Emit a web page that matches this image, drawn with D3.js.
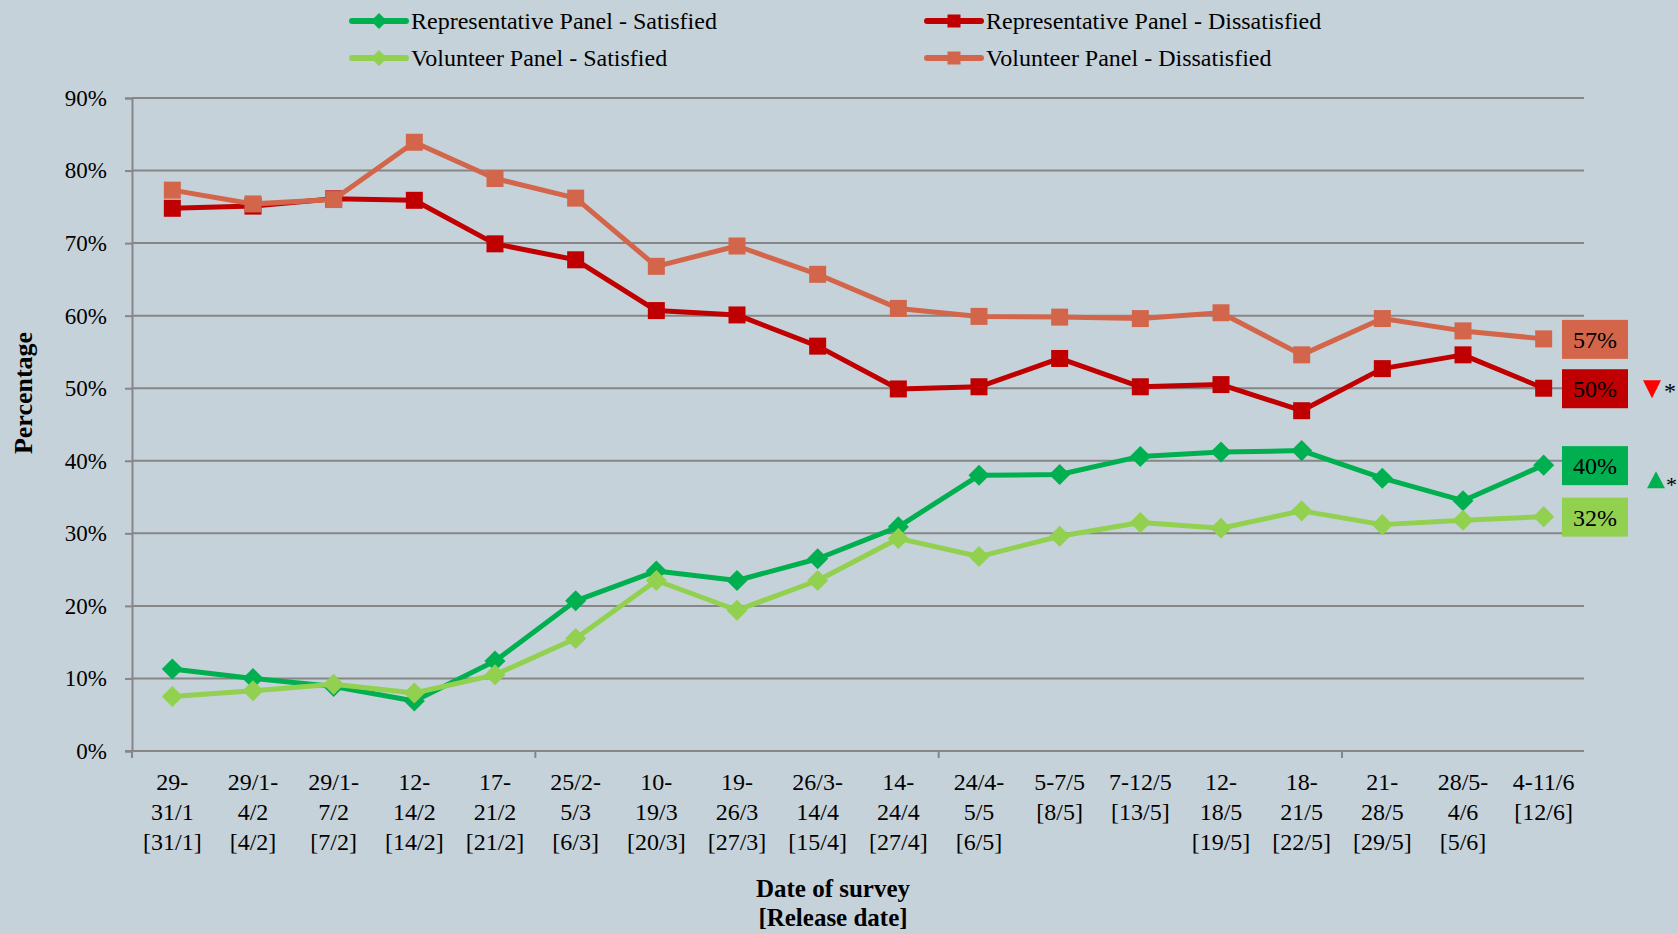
<!DOCTYPE html>
<html>
<head>
<meta charset="utf-8">
<script src="https://cdn.jsdelivr.net/npm/d3@7"></script>
<style>
  html, body { margin: 0; padding: 0; background: #c6d2d9; }
  svg { display: block; }
  text { font-family: "Liberation Serif", "Times New Roman", serif; fill: #000; }
</style>
</head>
<body>
<script>
// ---- Data ----
const categories = [
  "29-|31/1|[31/1]", "29/1-|4/2|[4/2]", "29/1-|7/2|[7/2]", "12-|14/2|[14/2]",
  "17-|21/2|[21/2]", "25/2-|5/3|[6/3]", "10-|19/3|[20/3]", "19-|26/3|[27/3]",
  "26/3-|14/4|[15/4]", "14-|24/4|[27/4]", "24/4-|5/5|[6/5]", "5-7/5|[8/5]",
  "7-12/5|[13/5]", "12-|18/5|[19/5]", "18-|21/5|[22/5]", "21-|28/5|[29/5]",
  "28/5-|4/6|[5/6]", "4-11/6|[12/6]"
];
const repSatisfied    = [11.3, 10.0, 8.9, 6.9, 12.4, 20.7, 24.8, 23.5, 26.5, 30.9, 38.0, 38.1, 40.6, 41.2, 41.4, 37.6, 34.5, 39.4];
const volSatisfied    = [7.5, 8.3, 9.2, 8.0, 10.5, 15.5, 23.5, 19.4, 23.5, 29.3, 26.8, 29.6, 31.5, 30.7, 33.1, 31.2, 31.8, 32.3];
const repDissatisfied = [74.8, 75.1, 76.1, 75.9, 69.9, 67.7, 60.7, 60.1, 55.8, 49.9, 50.2, 54.1, 50.2, 50.5, 46.9, 52.7, 54.6, 50.0];
const volDissatisfied = [77.3, 75.4, 76.0, 83.9, 78.9, 76.2, 66.8, 69.6, 65.7, 61.0, 59.9, 59.8, 59.6, 60.4, 54.6, 59.6, 57.9, 56.8];
const yTicks = [0, 10, 20, 30, 40, 50, 60, 70, 80, 90];
const seriesNames = [
  "Representative Panel - Satisfied", "Volunteer Panel - Satisfied",
  "Representative Panel - Dissatisfied", "Volunteer Panel - Dissatisfied"
];
const endLabels = ["40%", "32%", "50%", "57%"];

// ---- Styles ----
const colors = ["#00b050", "#92d050", "#c00000", "#d3664a"];
const shapes = ["diamond", "diamond", "square", "square"];
const series = [repSatisfied, volSatisfied, repDissatisfied, volDissatisfied];

const W = 1678, H = 934;
const plot = { left: 132, right: 1584, top: 98, bottom: 751 };

const svg = d3.select("body").append("svg").attr("width", W).attr("height", H);
svg.append("rect").attr("width", W).attr("height", H).attr("fill", "#c6d2d9");

const x = d3.scaleBand().domain(d3.range(categories.length)).range([plot.left, plot.right]).padding(0);
const cx = i => x(i) + x.bandwidth() / 2;
const y = d3.scaleLinear().domain([0, 90]).range([plot.bottom, plot.top]);

// gridlines
svg.append("g").selectAll("line").data(yTicks.filter(d => d > 0)).join("line")
  .attr("x1", plot.left).attr("x2", plot.right)
  .attr("y1", d => y(d)).attr("y2", d => y(d))
  .attr("stroke", "#868686").attr("stroke-width", 2);

// y axis
const yAxis = svg.append("g").attr("transform", `translate(${plot.left},0)`)
  .call(d3.axisLeft(y).tickValues(yTicks).tickFormat(d => d + "%").tickSize(7).tickPadding(18));
yAxis.select(".domain").attr("stroke", "#868686").attr("stroke-width", 2);
yAxis.selectAll(".tick line").attr("stroke", "#868686").attr("stroke-width", 2);
yAxis.selectAll(".tick text").style("font-size", "23px").style("font-family", "Liberation Serif, serif").attr("fill", "#000");

// x axis
svg.append("line").attr("x1", plot.left - 7).attr("x2", plot.right)
  .attr("y1", plot.bottom).attr("y2", plot.bottom)
  .attr("stroke", "#868686").attr("stroke-width", 2);
const tickIdx = d3.range(0, categories.length, 5);
svg.append("g").selectAll("line").data(tickIdx).join("line")
  .attr("x1", d => x(d)).attr("x2", d => x(d))
  .attr("y1", plot.bottom).attr("y2", plot.bottom + 7)
  .attr("stroke", "#868686").attr("stroke-width", 2);

const xl = svg.append("g").selectAll("text").data(categories).join("text")
  .attr("text-anchor", "middle")
  .style("font-size", "24px");
xl.each(function(d, i) {
  const t = d3.select(this);
  d.split("|").forEach((s, k) => {
    t.append("tspan").attr("x", cx(i)).attr("y", 790 + k * 30).text(s);
  });
});

// axis titles
svg.append("text").attr("transform", "translate(32,393) rotate(-90)")
  .attr("text-anchor", "middle").style("font-size", "26px").style("font-weight", "bold").text("Percentage");
svg.append("text").attr("x", 833).attr("y", 897).attr("text-anchor", "middle")
  .style("font-size", "25px").style("font-weight", "bold").text("Date of survey");
svg.append("text").attr("x", 833).attr("y", 926).attr("text-anchor", "middle")
  .style("font-size", "25px").style("font-weight", "bold").text("[Release date]");

// marker symbols
function marker(sel, shape, color, size) {
  if (shape === "square") {
    sel.append("rect").attr("x", -size / 2).attr("y", -size / 2).attr("width", size).attr("height", size).attr("fill", color);
  } else {
    const s = size * 0.62;
    sel.append("path").attr("d", `M0,${-s}L${s},0L0,${s}L${-s},0Z`).attr("fill", color);
  }
}

// lines
const line = d3.line().x((d, i) => cx(i)).y(d => y(d));
[0, 1, 2, 3].forEach(si => {
  const g = svg.append("g");
  g.append("path").datum(series[si]).attr("d", line)
    .attr("fill", "none").attr("stroke", colors[si]).attr("stroke-width", 5).attr("stroke-linejoin", "round");
  g.selectAll("g").data(series[si]).join("g")
    .attr("transform", (d, i) => `translate(${cx(i)},${y(d)})`)
    .each(function() { marker(d3.select(this), shapes[si], colors[si], 17); });
});

// end labels
const lastIdx = categories.length - 1;
series.forEach((s, si) => {
  const yc = y(s[lastIdx]);
  svg.append("rect").attr("x", 1562).attr("y", yc - 19).attr("width", 66).attr("height", 39).attr("fill", colors[si]);
  svg.append("text").attr("x", 1595).attr("y", yc + 9).attr("text-anchor", "middle")
    .style("font-size", "24px").text(endLabels[si]);
});

// significance markers
const ryc = y(repDissatisfied[lastIdx]);
svg.append("path").attr("d", `M1643,${ryc - 8}L1661,${ryc - 8}L1652,${ryc + 10}Z`).attr("fill", "#ff0000");
svg.append("text").attr("x", 1664).attr("y", ryc + 11).style("font-size", "24px").attr("fill", "#ff0000").text("*");
const gyc = y(repSatisfied[lastIdx]) + 15;
svg.append("path").attr("d", `M1647,${gyc + 8}L1665,${gyc + 8}L1656,${gyc - 9}Z`).attr("fill", "#00b050");
svg.append("text").attr("x", 1666).attr("y", gyc + 12).style("font-size", "22px").attr("fill", "#00b050").text("*");

// legend
const legendItems = [
  { si: 0, x: 352, y: 21 }, { si: 1, x: 352, y: 58 },
  { si: 2, x: 927, y: 21 }, { si: 3, x: 927, y: 58 }
];
legendItems.forEach(it => {
  const g = svg.append("g").attr("transform", `translate(${it.x},${it.y})`);
  g.append("line").attr("x1", 0).attr("x2", 54).attr("y1", 0).attr("y2", 0)
    .attr("stroke", colors[it.si]).attr("stroke-width", 6).attr("stroke-linecap", "round");
  const m = g.append("g").attr("transform", "translate(27,0)");
  marker(m, shapes[it.si], colors[it.si], 13);
  g.append("text").attr("x", 59).attr("y", 8).style("font-size", "24px").text(seriesNames[it.si]);
});
</script>
</body>
</html>
